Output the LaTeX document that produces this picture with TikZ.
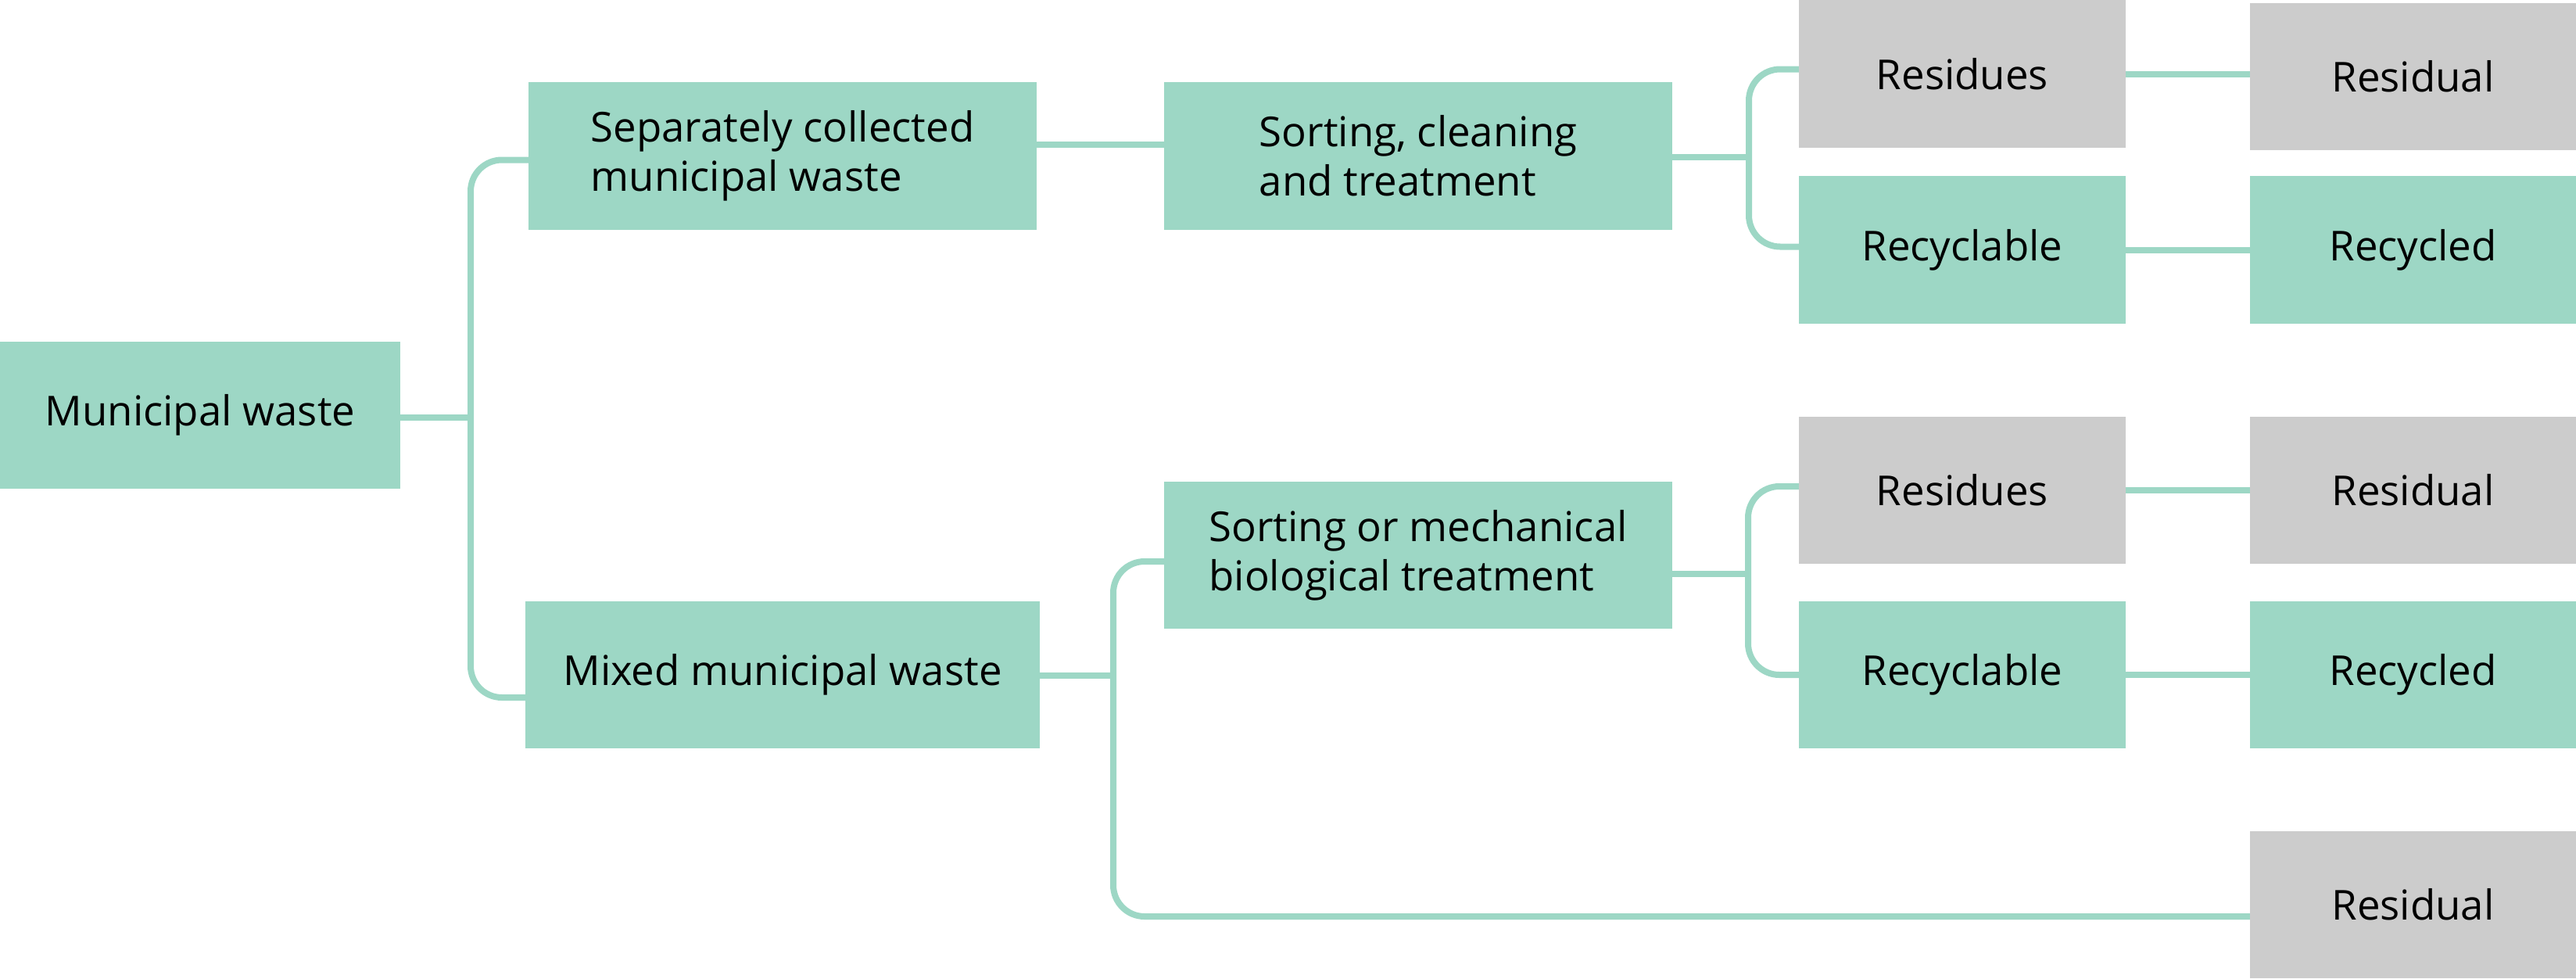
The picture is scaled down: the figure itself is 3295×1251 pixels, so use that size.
\documentclass[tikz,border=0pt]{standalone}
\usepackage{fontspec}
\setmainfont{Open Sans}
\usetikzlibrary{calc}
\definecolor{wastegreen}{RGB}{157,215,197}
\definecolor{wastegrey}{RGB}{204,204,204}
\tikzset{
  wbox/.style={fill=wastegreen, inner sep=0pt, outer sep=0pt, minimum height=1.88cm,
    align=left, font=\fontsize{15}{18}\selectfont},
  gbox/.style={wbox, fill=wastegrey},
  link/.style={draw=wastegreen, line width=0.08cm, rounded corners=0.4cm}
}
\begin{document}
\begin{tikzpicture}[x=0.01cm,y=-0.01cm]
\useasboundingbox (0,0) rectangle (3295,1251);
\node[wbox, minimum width=5.12cm] (mw) at (256,531) {Municipal waste};
\node[wbox, minimum width=6.5cm] (sep) at (1001,199.5) {Separately collected\\municipal waste};
\node[wbox, minimum width=6.58cm] (mix) at (1001,863) {Mixed municipal waste};
\node[wbox, minimum width=6.5cm] (sct) at (1814,199.5) {Sorting, cleaning\\and treatment};
\node[wbox, minimum width=6.5cm] (smb) at (1814,710) {Sorting or mechanical\\biological treatment};
\node[gbox, minimum width=4.18cm] (res1) at (2510,94.5) {Residues};
\node[wbox, minimum width=4.18cm] (rcy1) at (2510,319.5) {Recyclable};
\node[gbox, minimum width=4.18cm] (res2) at (2510,627) {Residues};
\node[wbox, minimum width=4.18cm] (rcy2) at (2510,863) {Recyclable};
\node[gbox, minimum width=4.17cm] (resl1) at (3086.5,98) {Residual};
\node[wbox, minimum width=4.17cm] (rcd1) at (3086.5,319.5) {Recycled};
\node[gbox, minimum width=4.17cm] (resl2) at (3086.5,627) {Residual};
\node[wbox, minimum width=4.17cm] (rcd2) at (3086.5,863) {Recycled};
\node[gbox, minimum width=4.17cm] (resl3) at (3086.5,1157) {Residual};
\coordinate (f1) at (602,534);
\coordinate (f2) at (2237,201);
\coordinate (f3) at (1424,864);
\coordinate (f4) at (2236,734);
\draw[link] (mw.east |- f1) -- (f1);
\draw[link] ($(sep.west)+(0,5)$) -| (f1) |- ($(mix.west)+(0,29)$);
\draw[link] ($(sep.east)+(0,-15)$) -- ($(sct.west)+(0,-15)$);
\draw[link] (sct.east |- f2) -- (f2);
\draw[link] ($(res1.west)+(0,-6)$) -| (f2) |- ($(rcy1.west)+(0,-4)$);
\draw[link] (res1.east) -- (res1.east -| resl1.west);
\draw[link] (rcy1.east) -- (rcd1.west);
\draw[link] (mix.east |- f3) -- (f3);
\draw[link] ($(smb.west)+(0,8)$) -| (f3) |- ($(resl3.west)+(0,15)$);
\draw[link] ($(smb.east)+(0,24)$) -- (f4);
\draw[link] ($(res2.west)+(0,-5)$) -| (f4) |- (rcy2.west);
\draw[link] (res2.east) -- (resl2.west);
\draw[link] (rcy2.east) -- (rcd2.west);
\end{tikzpicture}
\end{document}
